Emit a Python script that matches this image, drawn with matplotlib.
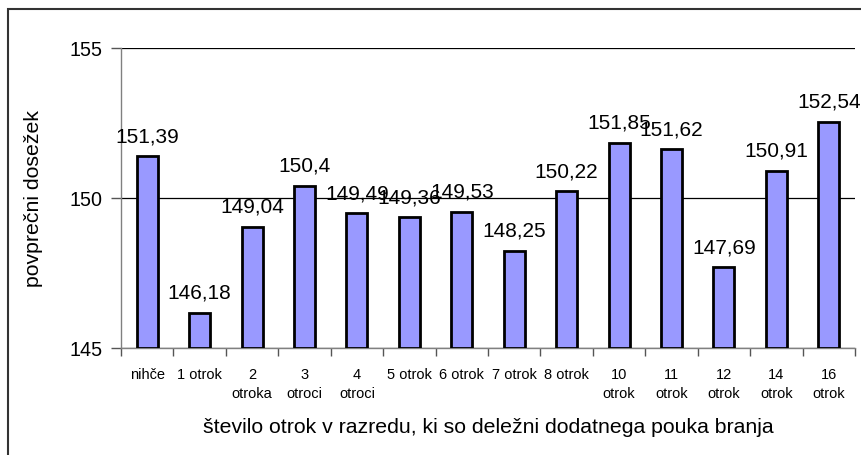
import matplotlib
matplotlib.use("Agg")
import matplotlib.pyplot as plt
from matplotlib.patches import Rectangle

plt.rcParams['font.family'] = ['Liberation Sans', 'DejaVu Sans']

categories = ["nihče", "1 otrok", "2\notroka", "3\notroci", "4\notroci", "5 otrok",
              "6 otrok", "7 otrok", "8 otrok", "10\notrok", "11\notrok", "12\notrok",
              "14\notrok", "16\notrok"]
values = [151.39, 146.18, 149.04, 150.4, 149.49, 149.36, 149.53, 148.25,
          150.22, 151.85, 151.62, 147.69, 150.91, 152.54]
yticks = [145, 150, 155]

W, H = 862, 456
fig = plt.figure(figsize=(W / 100, H / 100), dpi=100)
left, right, top, bottom = 121, 855, 49, 349
ax = fig.add_axes([left / W, 1 - bottom / H, (right - left) / W, (bottom - top) / H])

x = list(range(len(categories)))
ax.bar(x, [v - 145 for v in values], bottom=145, width=0.4, color="#9999FF",
       edgecolor="black", linewidth=2.0, zorder=3)

for xi, v in zip(x, values):
    lab = f"{v:g}".replace(".", ",")
    ax.annotate(lab, (xi, v), xytext=(0, 8), textcoords="offset points",
                ha="center", va="bottom", fontsize=15, zorder=4)

ax.set_xlim(-0.5, len(categories) - 0.5)
ax.set_ylim(145, 155)
ax.set_yticks(yticks)
ax.set_yticklabels([str(t) for t in yticks], fontsize=14.2)
ax.yaxis.grid(True, color="black", linewidth=0.9, zorder=0)
ax.set_axisbelow(True)

ax.set_xticks(x)
ax.set_xticklabels(categories, fontsize=10.5, linespacing=1.5, va="top")
ax.set_xticks([i - 0.5 for i in range(len(categories) + 1)], minor=True)
ax.tick_params(axis="x", which="major", length=0, pad=13.5)
ax.tick_params(axis="x", which="minor", length=6, color="#555555", width=1, direction="out")
ax.tick_params(axis="y", length=7, color="#555555", width=1, direction="out", pad=6)

for s in ["top", "right"]:
    ax.spines[s].set_visible(False)
for s in ["left", "bottom"]:
    ax.spines[s].set_color("#808080")
    ax.spines[s].set_linewidth(1.0)

ax.set_xlabel("število otrok v razredu, ki so deležni dodatnega pouka branja",
              fontsize=15.3, labelpad=12)
ax.set_ylabel("povprečni dosežek", fontsize=15.3, labelpad=19)

fig.patches.append(Rectangle((8 / W, -0.1), 1.2, 1 - 10 / H + 0.1, transform=fig.transFigure,
                             fill=False, edgecolor="#333333", linewidth=1.5, clip_on=False))

fig.savefig("out.png", dpi=100)
